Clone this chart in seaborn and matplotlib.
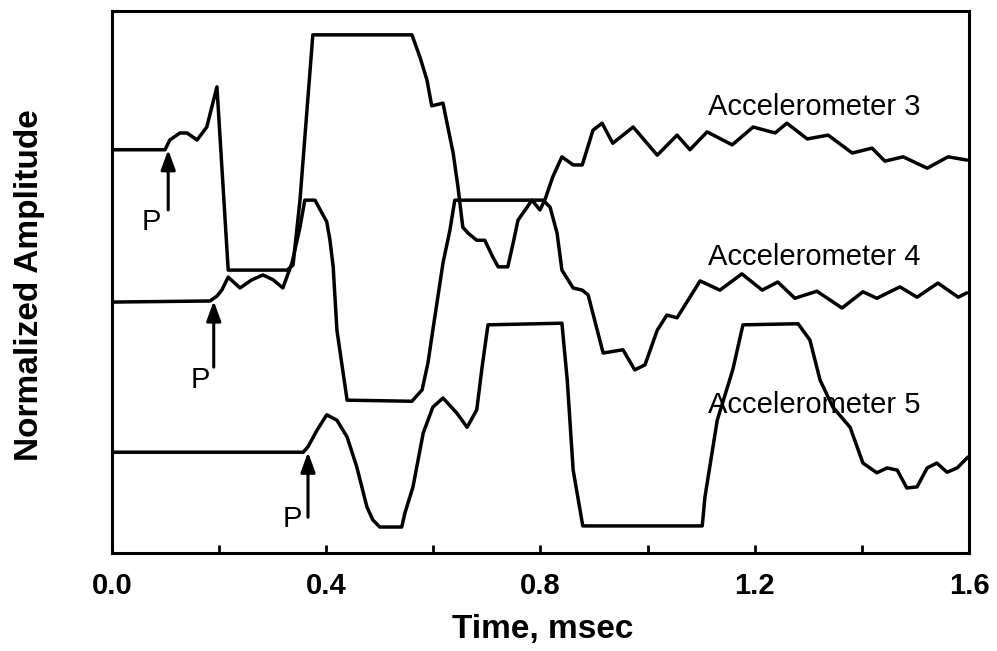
import matplotlib
matplotlib.use("Agg")
import matplotlib.pyplot as plt
import numpy as np
import pandas as pd
import seaborn as sns

# Time axis (msec) and normalized amplitude (0-100 across the plot height)
acc3_time = [0.000, 0.099, 0.108, 0.127, 0.140, 0.159, 0.177, 0.196, 0.217, 0.327,
             0.338, 0.351, 0.375, 0.560, 0.575, 0.588, 0.597, 0.618, 0.627, 0.637,
             0.646, 0.655, 0.665, 0.681, 0.696, 0.711, 0.721, 0.739, 0.749, 0.758,
             0.775, 0.784, 0.799, 0.808, 0.823, 0.840, 0.861, 0.878, 0.898, 0.915,
             0.935, 0.973, 1.018, 1.055, 1.079, 1.111, 1.158, 1.197, 1.238, 1.260,
             1.298, 1.337, 1.382, 1.419, 1.443, 1.477, 1.522, 1.561, 1.596]
acc3_amp = [74.4, 74.4, 76.2, 77.5, 77.5, 76.2, 78.6, 86.0, 52.2, 52.2,
            53.1, 65.1, 95.6, 95.6, 91.5, 87.3, 82.5, 83.0, 78.6, 73.8,
            67.5, 60.1, 59.0, 57.7, 57.7, 54.6, 52.8, 52.8, 57.2, 61.4,
            63.8, 65.1, 63.3, 65.1, 69.4, 73.1, 71.6, 71.6, 78.0, 79.3,
            75.6, 78.6, 73.4, 77.1, 74.4, 77.7, 75.3, 78.6, 77.5, 79.3,
            76.4, 77.1, 73.8, 74.7, 72.3, 73.1, 71.0, 73.1, 72.5]

acc4_time = [0.000, 0.183, 0.196, 0.205, 0.217, 0.239, 0.261, 0.282, 0.301, 0.319,
             0.336, 0.351, 0.360, 0.379, 0.401, 0.407, 0.413, 0.420, 0.439, 0.560,
             0.579, 0.590, 0.599, 0.618, 0.631, 0.640, 0.805, 0.818, 0.831, 0.840,
             0.861, 0.878, 0.889, 0.917, 0.954, 0.976, 0.995, 1.018, 1.036, 1.055,
             1.098, 1.135, 1.176, 1.214, 1.243, 1.275, 1.316, 1.363, 1.402, 1.428,
             1.471, 1.503, 1.542, 1.580, 1.596]
acc4_amp = [46.3, 46.5, 47.4, 48.5, 50.9, 48.9, 50.4, 51.3, 50.4, 48.9,
            53.5, 60.1, 65.1, 65.1, 61.1, 57.7, 52.8, 41.1, 28.2, 28.0,
            30.1, 35.1, 41.1, 53.5, 59.6, 65.1, 65.1, 63.8, 59.0, 52.2,
            48.9, 48.5, 47.6, 36.9, 37.5, 33.8, 34.7, 41.1, 43.9, 43.4,
            50.2, 48.5, 51.5, 48.5, 50.0, 47.0, 48.3, 45.2, 48.2, 47.0,
            49.1, 47.2, 49.8, 47.2, 48.0]

acc5_time = [0.000, 0.357, 0.366, 0.383, 0.401, 0.420, 0.439, 0.457, 0.476, 0.487,
             0.500, 0.541, 0.547, 0.562, 0.581, 0.599, 0.618, 0.644, 0.663, 0.681,
             0.691, 0.702, 0.840, 0.850, 0.861, 0.879, 1.102, 1.107, 1.130, 1.159,
             1.178, 1.281, 1.303, 1.322, 1.346, 1.378, 1.402, 1.428, 1.447, 1.466,
             1.484, 1.503, 1.522, 1.540, 1.559, 1.578, 1.598]
acc5_amp = [18.6, 18.6, 19.6, 22.7, 25.5, 24.5, 21.4, 15.9, 8.5, 6.1,
            4.8, 4.8, 7.4, 12.2, 22.1, 26.9, 28.6, 25.8, 23.2, 26.4,
            34.3, 42.1, 42.4, 31.9, 15.3, 5.0, 5.0, 10.3, 24.5, 33.8,
            42.1, 42.3, 39.3, 31.9, 26.9, 23.2, 16.6, 14.8, 15.7, 15.3,
            12.0, 12.2, 15.7, 16.6, 14.9, 15.7, 17.7]

sensor_names = ["Accelerometer 3", "Accelerometer 4", "Accelerometer 5"]
# P-wave arrival: arrow x position, arrow tip and tail amplitudes
p_time = [0.105, 0.190, 0.366]
p_tip = [74.4, 46.5, 18.6]
p_tail = [63.3, 34.3, 6.6]
# "P" label anchor (left, baseline)
p_label_time = [0.056, 0.146, 0.319]
p_label_amp = [59.6, 30.4, 4.8]
# sensor name anchor (left, baseline)
name_time = [1.113, 1.113, 1.113]
name_amp = [80.8, 53.1, 25.8]

x_major = [0.0, 0.4, 0.8, 1.2, 1.6]
x_minor = [0.2, 0.6, 1.0, 1.4]
x_labels = ["0.0", "0.4", "0.8", "1.2", "1.6"]

sns.set_theme(style="white")
plt.rcParams["font.family"] = ["Liberation Sans", "DejaVu Sans"]
plt.rcParams["text.color"] = "black"
plt.rcParams["axes.labelcolor"] = "black"
plt.rcParams["xtick.color"] = "black"
plt.rcParams["xtick.labelcolor"] = "black"

frames = []
for name, t, a in zip(sensor_names, [acc3_time, acc4_time, acc5_time],
                      [acc3_amp, acc4_amp, acc5_amp]):
    frames.append(pd.DataFrame({"time": t, "amplitude": a, "sensor": name}))
df = pd.concat(frames, ignore_index=True)

fig = plt.figure(figsize=(9.97, 6.51), dpi=100)
ax = fig.add_axes([0.1123, 0.1505, 0.8596, 0.8326])

for name in sensor_names:
    sns.lineplot(data=df[df["sensor"] == name], x="time", y="amplitude",
                 estimator=None, sort=False, color="black", linewidth=2.5,
                 ax=ax, legend=False)

for pt, tip, tail, lt, la in zip(p_time, p_tip, p_tail, p_label_time, p_label_amp):
    ax.annotate("", xy=(pt, tip), xytext=(pt, tail),
                arrowprops=dict(arrowstyle="-|>,head_length=0.6,head_width=0.22",
                                color="black", lw=2.2, mutation_scale=20,
                                shrinkA=0, shrinkB=0))
    ax.text(lt, la, "P", fontsize=21, ha="left", va="baseline", color="black")

for name, nt, na in zip(sensor_names, name_time, name_amp):
    ax.text(nt, na, name, fontsize=21, ha="left", va="baseline", color="black")

ax.set_xlim(0, 1.6)
ax.set_ylim(0, 100)
ax.set_xticks(x_major)
ax.set_xticklabels(x_labels, fontsize=21, fontweight="bold", color="black")
ax.set_xticks(x_minor, minor=True)
ax.set_yticks([])
ax.tick_params(axis="x", which="both", direction="in", length=6, width=2,
               color="black", pad=14, bottom=True, top=False)

ax.set_xlabel("Time, msec", fontsize=24, fontweight="bold", va="top", color="black")
ax.set_ylabel("Normalized Amplitude", fontsize=24, fontweight="bold", color="black")
ax.xaxis.set_label_coords(0.503, -0.112)
ax.yaxis.set_label_coords(-0.078, 0.494)

for spine in ax.spines.values():
    spine.set_visible(True)
    spine.set_color("black")
    spine.set_linewidth(2.2)

fig.savefig("out.png", dpi=100)
